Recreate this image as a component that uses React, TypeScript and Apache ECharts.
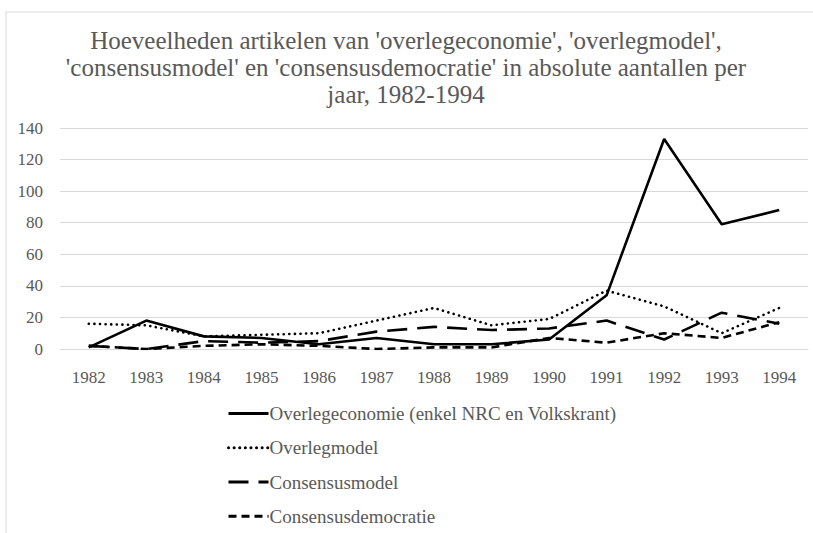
import React, { useEffect, useRef } from "react";
import * as echarts from "echarts";

const years = ["1982", "1983", "1984", "1985", "1986", "1987", "1988", "1989", "1990", "1991", "1992", "1993", "1994"];
const overlegeconomie = [1, 18, 8, 7, 3, 7, 3, 3, 6, 34, 133, 79, 88];
const overlegmodel = [16, 15, 8, 9, 10, 18, 26, 15, 19, 37, 27, 10, 26];
const consensusmodel = [2, 0, 5, 4, 5, 11, 14, 12, 13, 18, 6, 23, 16];
const consensusdemocratie = [2, 0, 2, 3, 2, 0, 1, 1, 7, 4, 10, 7, 17];
const seriesNames = [
  "Overlegeconomie (enkel NRC en Volkskrant)",
  "Overlegmodel",
  "Consensusmodel",
  "Consensusdemocratie",
];
const titleText =
  "Hoeveelheden artikelen van 'overlegeconomie', 'overlegmodel',\n'consensusmodel' en 'consensusdemocratie' in absolute aantallen per\njaar, 1982-1994";

const FONT = "Liberation Serif";

export default function App() {
  const ref = useRef<HTMLDivElement>(null);
  useEffect(() => {
    if (!ref.current) return;
    const chart = echarts.init(ref.current, null, { renderer: "svg" });
    const mk = (name: string, data: number[], type: any, cap: any = "butt") => ({
      name,
      type: "line",
      data,
      symbol: "none",
      lineStyle: { color: "#000", width: 2.6, type, cap },
      itemStyle: { color: "#000" },
    });
    chart.setOption({
      animation: false,
      backgroundColor: "#fff",
      graphic: [
        {
          type: "rect",
          shape: { x: 6, y: 12, width: 900, height: 560 },
          style: { fill: "none", stroke: "#d9d9d9", lineWidth: 1 },
          silent: true,
        },
        {
          type: "text",
          x: 406,
          y: 27,
          style: {
            text: titleText,
            fontFamily: FONT,
            fontSize: 25,
            fill: "#595959",
            lineHeight: 27,
            align: "center",
            verticalAlign: "top",
          },
          silent: true,
        },
      ],
      grid: { left: 60, right: 5, top: 128, bottom: 184, containLabel: false },
      xAxis: {
        type: "category",
        data: years,
        boundaryGap: true,
        axisLine: { show: true, lineStyle: { color: "#d9d9d9", width: 1 } },
        axisTick: { show: false },
        axisLabel: { color: "#595959", fontFamily: FONT, fontSize: 17, margin: 20 },
      },
      yAxis: {
        type: "value",
        min: 0,
        max: 140,
        interval: 20,
        axisLine: { show: false },
        axisTick: { show: false },
        splitLine: { lineStyle: { color: "#d9d9d9", width: 1 } },
        axisLabel: { color: "#595959", fontFamily: FONT, fontSize: 17, margin: 17 },
      },
      legend: {
        orient: "vertical",
        left: 222,
        top: 399,
        itemGap: 15,
        itemWidth: 40,
        itemHeight: 24,
        itemStyle: { opacity: 0 },
        lineStyle: { width: 3 },
        textStyle: { color: "#595959", fontFamily: FONT, fontSize: 19, padding: [0, 0, 0, -4] },
        data: seriesNames,
      },
      series: [
        mk(seriesNames[0], overlegeconomie, "solid"),
        mk(seriesNames[1], overlegmodel, [0.1, 5.5], "round"),
        mk(seriesNames[2], consensusmodel, [20, 10]),
        mk(seriesNames[3], consensusdemocratie, [8, 5]),
      ],
    });
    return () => chart.dispose();
  }, []);
  return (
    <div
      ref={ref}
      style={{ position: "fixed", left: 0, top: 0, width: 813, height: 533 }}
    />
  );
}
